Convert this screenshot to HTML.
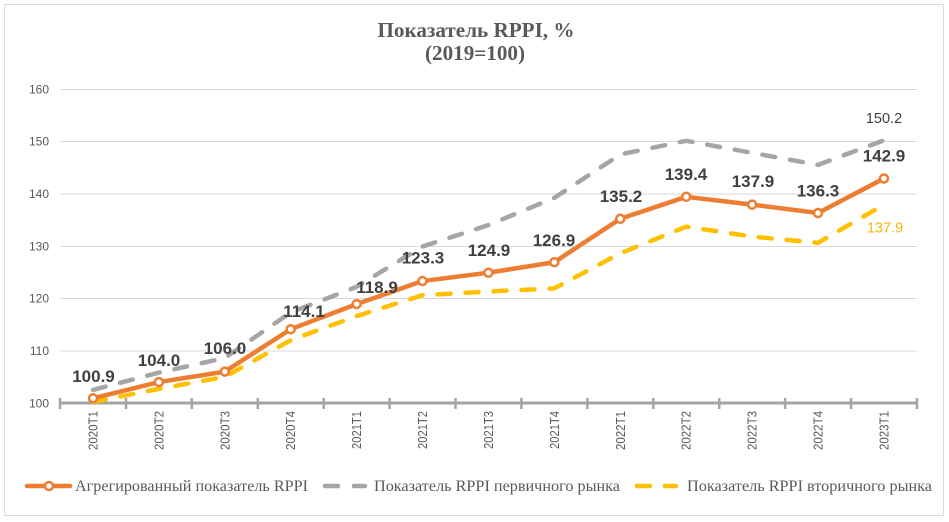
<!DOCTYPE html>
<html><head><meta charset="utf-8"><style>
html,body{margin:0;padding:0;background:#fff;}
svg{display:block;}
</style></head><body>
<svg width="949" height="522" viewBox="0 0 949 522" xmlns="http://www.w3.org/2000/svg">
<rect x="0" y="0" width="949" height="522" fill="#fff"/>
<rect x="4.5" y="4.5" width="939" height="511" fill="#fff" stroke="#d9d9d9" stroke-width="1"/>
<g font-family="'Liberation Serif', 'Noto Serif CJK SC', serif" font-weight="bold" fill="#595959" text-anchor="middle">
<text x="476" y="37" font-size="21" textLength="197" lengthAdjust="spacingAndGlyphs">Показатель RPPI, %</text>
<text x="475" y="60" font-size="21" textLength="100" lengthAdjust="spacingAndGlyphs">(2019=100)</text>
</g>
<g stroke="#d9d9d9" stroke-width="1">
<line x1="60" y1="89.5" x2="917" y2="89.5"/>
<line x1="60" y1="141.5" x2="917" y2="141.5"/>
<line x1="60" y1="194" x2="917" y2="194"/>
<line x1="60" y1="246.5" x2="917" y2="246.5"/>
<line x1="60" y1="298.5" x2="917" y2="298.5"/>
<line x1="60" y1="351" x2="917" y2="351"/>
</g>
<g font-family="'Liberation Sans', sans-serif" font-size="12" fill="#595959" text-anchor="end">
<text x="49" y="93.5">160</text>
<text x="49" y="145.5">150</text>
<text x="49" y="198">140</text>
<text x="49" y="250.5">130</text>
<text x="49" y="302.5">120</text>
<text x="49" y="355">110</text>
<text x="49" y="407.5">100</text>
</g>
<g stroke="#a5a5a5" stroke-width="3">
<line x1="59" y1="403" x2="918" y2="403"/>
</g>
<g stroke="#a5a5a5" stroke-width="2.5">
<line x1="60" y1="398" x2="60" y2="409"/>
<line x1="126" y1="398" x2="126" y2="409"/>
<line x1="191.8" y1="398" x2="191.8" y2="409"/>
<line x1="257.8" y1="398" x2="257.8" y2="409"/>
<line x1="323.7" y1="398" x2="323.7" y2="409"/>
<line x1="389.6" y1="398" x2="389.6" y2="409"/>
<line x1="455.5" y1="398" x2="455.5" y2="409"/>
<line x1="521.4" y1="398" x2="521.4" y2="409"/>
<line x1="587.4" y1="398" x2="587.4" y2="409"/>
<line x1="653.3" y1="398" x2="653.3" y2="409"/>
<line x1="719.2" y1="398" x2="719.2" y2="409"/>
<line x1="785.1" y1="398" x2="785.1" y2="409"/>
<line x1="851" y1="398" x2="851" y2="409"/>
<line x1="917" y1="398" x2="917" y2="409"/>
</g>
<g font-family="'Liberation Sans', sans-serif" font-size="12.5" fill="#595959" text-anchor="end">
<text transform="translate(97.5,411) rotate(-90)" textLength="39" lengthAdjust="spacingAndGlyphs">2020T1</text>
<text transform="translate(163.4,411) rotate(-90)" textLength="39" lengthAdjust="spacingAndGlyphs">2020T2</text>
<text transform="translate(229.3,411) rotate(-90)" textLength="39" lengthAdjust="spacingAndGlyphs">2020T3</text>
<text transform="translate(295.2,411) rotate(-90)" textLength="39" lengthAdjust="spacingAndGlyphs">2020T4</text>
<text transform="translate(361.1,411) rotate(-90)" textLength="38" lengthAdjust="spacingAndGlyphs">2021T1</text>
<text transform="translate(427,411) rotate(-90)" textLength="38" lengthAdjust="spacingAndGlyphs">2021T2</text>
<text transform="translate(492.9,411) rotate(-90)" textLength="38" lengthAdjust="spacingAndGlyphs">2021T3</text>
<text transform="translate(558.8,411) rotate(-90)" textLength="38" lengthAdjust="spacingAndGlyphs">2021T4</text>
<text transform="translate(624.8,411) rotate(-90)" textLength="39" lengthAdjust="spacingAndGlyphs">2022T1</text>
<text transform="translate(690.7,411) rotate(-90)" textLength="39" lengthAdjust="spacingAndGlyphs">2022T2</text>
<text transform="translate(756.6,411) rotate(-90)" textLength="39" lengthAdjust="spacingAndGlyphs">2022T3</text>
<text transform="translate(822.5,411) rotate(-90)" textLength="39" lengthAdjust="spacingAndGlyphs">2022T4</text>
<text transform="translate(888.4,411) rotate(-90)" textLength="39" lengthAdjust="spacingAndGlyphs">2023T1</text>
</g>
<!-- gray primary -->
<polyline fill="none" stroke="#a5a5a5" stroke-width="4.5" stroke-linecap="round" stroke-linejoin="round" stroke-dasharray="13 15"
points="93,389.92 158.9,372.65 224.8,357.99 290.7,312.46 356.6,286.82 422.5,246.52 488.4,225.07 554.3,197.85 620.3,154.42 686.2,140.81 752.1,152.85 818,164.88 883.9,140.29"/>
<!-- yellow secondary -->
<polyline fill="none" stroke="#ffc000" stroke-width="4.5" stroke-linecap="round" stroke-linejoin="round" stroke-dasharray="13 15"
points="93,401.95 158.9,388.87 224.8,376.83 290.7,340.2 356.6,316.13 422.5,295.2 488.4,291.53 554.3,288.39 620.3,253.33 686.2,226.64 752.1,236.58 818,242.86 883.9,204.66"/>
<!-- orange aggregated -->
<polyline fill="none" stroke="#ed7d31" stroke-width="4.5" stroke-linecap="round" stroke-linejoin="round"
points="93,398.29 158.9,382.07 224.8,371.6 290.7,329.21 356.6,304.09 422.5,281.06 488.4,272.69 554.3,262.22 620.3,218.79 686.2,196.81 752.1,204.66 818,213.03 883.9,178.49"/>
<g fill="#fff" stroke="#ed7d31" stroke-width="2.5">
<circle cx="93" cy="398.29" r="4"/>
<circle cx="158.9" cy="382.07" r="4"/>
<circle cx="224.8" cy="371.6" r="4"/>
<circle cx="290.7" cy="329.21" r="4"/>
<circle cx="356.6" cy="304.09" r="4"/>
<circle cx="422.5" cy="281.06" r="4"/>
<circle cx="488.4" cy="272.69" r="4"/>
<circle cx="554.3" cy="262.22" r="4"/>
<circle cx="620.3" cy="218.79" r="4"/>
<circle cx="686.2" cy="196.81" r="4"/>
<circle cx="752.1" cy="204.66" r="4"/>
<circle cx="818" cy="213.03" r="4"/>
<circle cx="883.9" cy="178.49" r="4"/>
</g>
<g font-family="'Liberation Sans', sans-serif" font-size="17" font-weight="bold" fill="#404040" text-anchor="middle">
<text x="93.5" y="382">100.9</text>
<text x="159" y="366">104.0</text>
<text x="225" y="354">106.0</text>
<text x="304" y="317">114.1</text>
<text x="377" y="293">118.9</text>
<text x="423" y="263.5">123.3</text>
<text x="489" y="256">124.9</text>
<text x="554" y="246">126.9</text>
<text x="621" y="202">135.2</text>
<text x="686" y="180">139.4</text>
<text x="753" y="187">137.9</text>
<text x="818" y="196.5">136.3</text>
<text x="884" y="161.5">142.9</text>
</g>
<text x="884" y="123" font-family="'Liberation Sans', sans-serif" font-size="14.5" fill="#404040" text-anchor="middle">150.2</text>
<text x="885" y="232.5" font-family="'Liberation Sans', sans-serif" font-size="14.5" fill="#f2b705" text-anchor="middle">137.9</text>
<!-- legend -->
<line x1="27" y1="486" x2="70" y2="486" stroke="#ed7d31" stroke-width="4.5" stroke-linecap="round"/>
<circle cx="49" cy="486" r="4" fill="#fff" stroke="#ed7d31" stroke-width="2.5"/>
<line x1="325" y1="486" x2="338" y2="486" stroke="#a5a5a5" stroke-width="4.5" stroke-linecap="round"/>
<line x1="354" y1="486" x2="365" y2="486" stroke="#a5a5a5" stroke-width="4.5" stroke-linecap="round"/>
<line x1="637" y1="486" x2="650" y2="486" stroke="#ffc000" stroke-width="4.5" stroke-linecap="round"/>
<line x1="665" y1="486" x2="676" y2="486" stroke="#ffc000" stroke-width="4.5" stroke-linecap="round"/>
<g font-family="'Liberation Serif', 'Noto Serif CJK SC', serif" font-size="16" fill="#595959">
<text x="75" y="491" textLength="233" lengthAdjust="spacingAndGlyphs">Агрегированный показатель RPPI</text>
<text x="374" y="491" textLength="246" lengthAdjust="spacingAndGlyphs">Показатель RPPI первичного рынка</text>
<text x="687" y="491" textLength="245" lengthAdjust="spacingAndGlyphs">Показатель RPPI вторичного рынка</text>
</g>
</svg>
</body></html>
